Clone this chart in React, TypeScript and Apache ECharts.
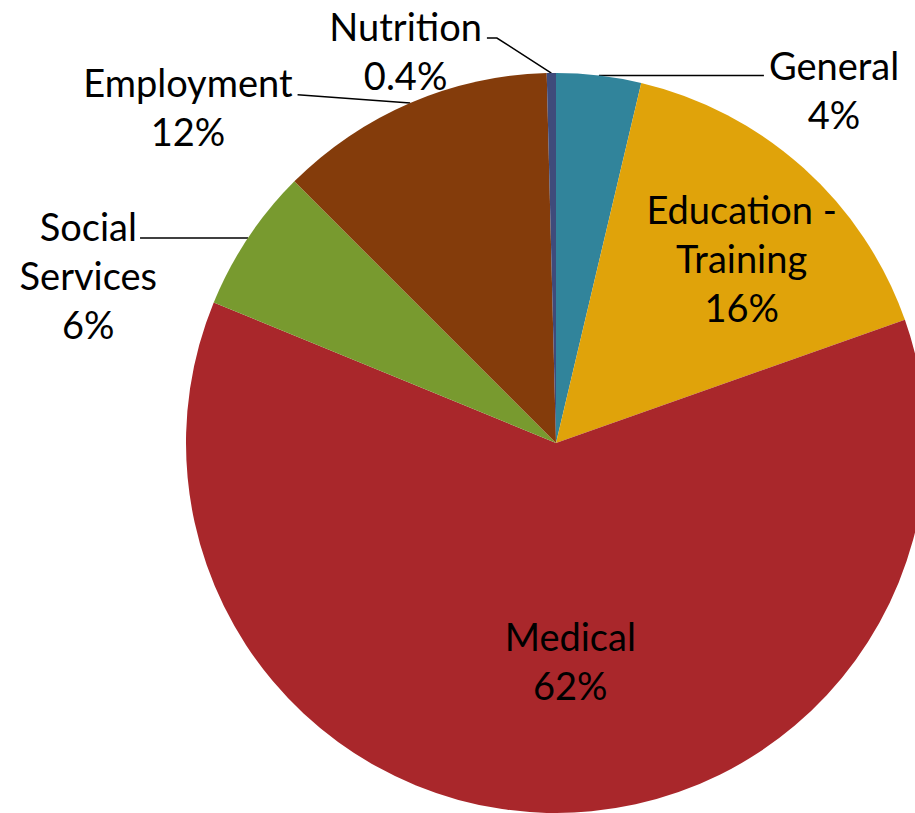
import React, { useEffect, useRef } from "react";
import * as echarts from "echarts";

const categories = ["General", "Education - Training", "Medical", "Social Services", "Employment", "Nutrition"];
const labelNames = ["General", "Education -\nTraining", "Medical", "Social\nServices", "Employment", "Nutrition"];
const values = [3.7, 15.9, 61.6, 6.3, 12.1, 0.4];
const colors = ["#31849B", "#E0A30A", "#A9272B", "#789A2F", "#843C0B", "#3F4B7B"];

const FONT = "Lato, 'Open Sans', sans-serif";
const FS = 38;
const LH = 49;

export default function App() {
  const ref = useRef<HTMLDivElement>(null);
  useEffect(() => {
    if (!ref.current) return;
    const chart = echarts.init(ref.current, undefined, { renderer: "svg" });

    const fmtPct = (p: number) => (p < 1 ? p.toFixed(1) : String(Math.round(p))) + "%";
    const richFmt = (params: any) => {
      const lines = labelNames[params.dataIndex].split("\n");
      lines.push(fmtPct(params.percent));
      return lines.map((l) => "{c|" + l + "}").join("\n");
    };
    const rich = { c: { align: "center", fontSize: FS, lineHeight: LH, fontFamily: FONT, color: "#000" } };

    // per-item label configuration (outside labels with leader lines, inside labels)
    const labelCfg: any[] = [
      { position: "outside", len: 0, len2: 165, padding: [28, 0, 0, 0], dist: 5, tail: 0 },
      { position: "inside" },
      { position: "inside" },
      { position: "outside", len: 0, len2: 108, padding: [74, 0, 0, 0], dist: -17, tail: 0 },
      { position: "outside", len: 9, len2: 109, padding: [23, 0, 0, 0], dist: 5, tail: 0 },
      { position: "outside", len: 35, len2: 64, padding: [24, 0, 0, 0], dist: 5, tail: 10 },
    ];
    const insideShift: Record<number, [number, number]> = { 1: [60, -45], 2: [19, 30] };

    const data = categories.map((name, i) => {
      const c = labelCfg[i];
      const item: any = {
        name,
        value: values[i],
        itemStyle: { color: colors[i] },
        label: {
          position: c.position,
          formatter: richFmt,
          rich,
          overflow: "none",
        },
      };
      if (c.position === "outside") {
        item.label.padding = c.padding;
        item.label.distanceToLabelLine = c.dist;
        item.labelLine = {
          show: true,
          length: c.len,
          length2: c.len2,
          lineStyle: { color: "#000", width: 1.5 },
        };
      } else {
        item.labelLine = { show: false };
      }
      return item;
    });

    chart.setOption({
      animation: false,
      backgroundColor: "#fff",
      series: [
        {
          type: "pie",
          center: [556, 443],
          radius: 370,
          startAngle: 90,
          clockwise: true,
          avoidLabelOverlap: false,
          minShowLabelAngle: 0,
          label: { show: true, color: "#000", fontFamily: FONT, fontSize: FS, lineHeight: LH },
          itemStyle: { borderWidth: 0 },
          emphasis: { disabled: true },
          data,
          labelLayout: (params: any) => {
            const i = params.dataIndex;
            const s = insideShift[i];
            if (s) return { dx: s[0], dy: s[1] };
            const pts = params.labelLinePoints;
            const c = labelCfg[i];
            if (pts && pts.length === 3 && c) {
              const start = pts[0];
              const end = pts[2];
              const dir = end[0] < start[0] ? 1 : -1;
              const mid = [end[0] + dir * c.tail, end[1]];
              return { labelLinePoints: [start, mid, end] };
            }
            return {};
          },
        },
      ],
    });
    return () => chart.dispose();
  }, []);
  return (
    <div
      ref={ref}
      style={{ position: "fixed", left: 0, top: 0, width: 915, height: 813 }}
    />
  );
}
